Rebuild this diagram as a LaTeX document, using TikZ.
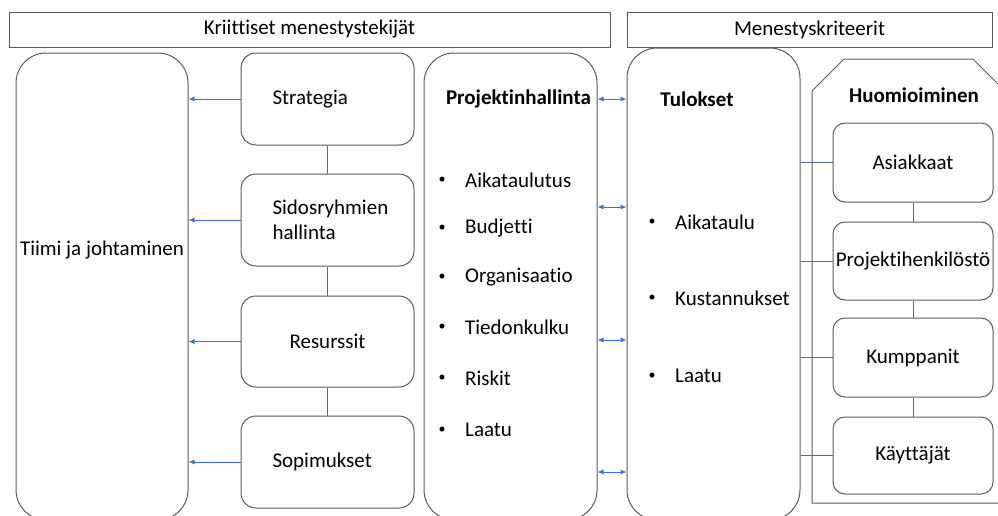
\documentclass[tikz,border=0pt]{standalone}
\usepackage{fontspec}
\setmainfont{Carlito}[Ligatures=NoCommon]
\usetikzlibrary{arrows.meta}
\definecolor{reuna}{HTML}{5A5A5A}
\definecolor{nuoli}{HTML}{4472C4}
\definecolor{viiva}{HTML}{41719C}
\tikzset{
	otsikko/.style={draw=reuna, line width=1pt, minimum height=35pt, inner sep=0pt},
	iso/.style={draw=reuna, line width=1pt, rounded corners=30pt, minimum width=173pt, inner sep=0pt},
	pieni/.style={draw=reuna, line width=1pt, rounded corners=15pt, minimum width=173pt, minimum height=92pt, inner sep=0pt},
	huomio/.style={draw=reuna, line width=1pt, rounded corners=12pt, minimum width=160pt, minimum height=78pt, inner sep=0pt},
	teksti/.style={inner sep=0pt},
	pallo/.style={inner sep=0pt, font=\fontsize{14}{16}\selectfont},
	yhteys/.style={draw=viiva, line width=0.8pt},
	nuoliviiva/.style={draw=nuoli, line width=0.8pt, -{Latex[length=6pt,width=5pt]}},
	kaksinuoli/.style={draw=nuoli, line width=0.8pt, {Latex[length=6pt,width=5pt]}-{Latex[length=6pt,width=5pt]}}
}
\begin{document}
\begin{tikzpicture}[x=1pt,y=-1pt,font=\fontsize{21}{25}\selectfont]
	\clip (0,0) rectangle (998,515);
	
	% otsikot
	\node[otsikko, minimum width=601pt] (kriittiset) at (309.5,29.5) {Kriittiset menestystekijät};
	\node[otsikko, minimum width=365pt] (kriteerit) at (809.5,29.5) {Menestyskriteerit};
	
	% isot laatikot
	\node[iso, minimum width=172pt, minimum height=467pt] (tiimi) at (102,286.5) {};
	\node[iso, minimum height=467pt] (projekti) at (510.5,286.5) {};
	\node[iso, minimum height=472pt] (tulokset) at (713.5,284) {};
	\node[teksti] (tiimiteksti) at (102,250) {Tiimi ja johtaminen};
	\node[teksti, font=\fontsize{21}{25}\selectfont\bfseries] (projektiotsikko) at (518.5,99) {Projektinhallinta};
	\node[teksti, font=\fontsize{21}{25}\selectfont\bfseries] (tuloksetotsikko) at (697,99) {Tulokset};
	
	% menestystekijat
	\node[pieni, text width=110pt, align=left] (strategia) at (327.5,99) {Strategia};
	\node[pieni, text width=110pt, align=left] (sidosryhmat) at (327.5,220) {Sidosryhmien\\hallinta};
	\node[pieni, minimum height=91pt] (resurssit) at (327.5,341.5) {Resurssit};
	\node[pieni, text width=110pt, align=left] (sopimukset) at (327.5,462) {Sopimukset};
	
	\draw[yhteys] (strategia) -- (sidosryhmat);
	\draw[yhteys] (sidosryhmat) -- (resurssit);
	\draw[yhteys] (resurssit) -- (sopimukset);
	\foreach \t in {strategia,sidosryhmat,resurssit,sopimukset}
		\draw[nuoliviiva] (\t.west) -- (\t.west -| tiimi.east);
	
	% projektinhallinnan osat
	\foreach \nimi/\y [count=\i] in {Aikataulutus/180, Budjetti/228, Organisaatio/277, Tiedonkulku/327, Riskit/378, Laatu/430} {
		\node[pallo] (pb\i) at (442,\y) {\textbullet};
		\node[teksti, anchor=west] (pt\i) at (465,\y) {\nimi};
	}
	
	% tulokset
	\foreach \nimi/\y [count=\i] in {Aikataulu/222, Kustannukset/298, Laatu/376} {
		\node[pallo] (tb\i) at (652,\y) {\textbullet};
		\node[teksti, anchor=west] (tt\i) at (675,\y) {\nimi};
	}
	
	\foreach \y in {99,207,340,472}
		\draw[kaksinuoli] (projekti.east |- 0,\y) -- (tulokset.west |- 0,\y);
	
	% huomioiminen
	\draw[reuna, line width=1pt] (812,503) -- (812,91) -- (844,59) -- (973,59) -- (1017,103) -- (1017,503) -- cycle;
	\node[teksti, font=\fontsize{21}{25}\selectfont\bfseries] (huomioteksti) at (914,95) {Huomioiminen};
	\node[huomio, minimum height=79pt] (asiakkaat) at (913,162.5) {Asiakkaat};
	\node[huomio] (henkilosto) at (913,261) {Projektihenkilöstö};
	\node[huomio, minimum height=79pt] (kumppanit) at (913,357.5) {Kumppanit};
	\node[huomio, minimum height=77pt] (kayttajat) at (913,455.5) {Käyttäjät};
	
	\draw[yhteys] (asiakkaat) -- (henkilosto);
	\draw[yhteys] (henkilosto) -- (kumppanit);
	\draw[yhteys] (kumppanit) -- (kayttajat);
	\foreach \h in {asiakkaat,henkilosto,kumppanit,kayttajat}
		\draw[yhteys] (\h.west) -- (\h.west -| tulokset.east);
\end{tikzpicture}
\end{document}
